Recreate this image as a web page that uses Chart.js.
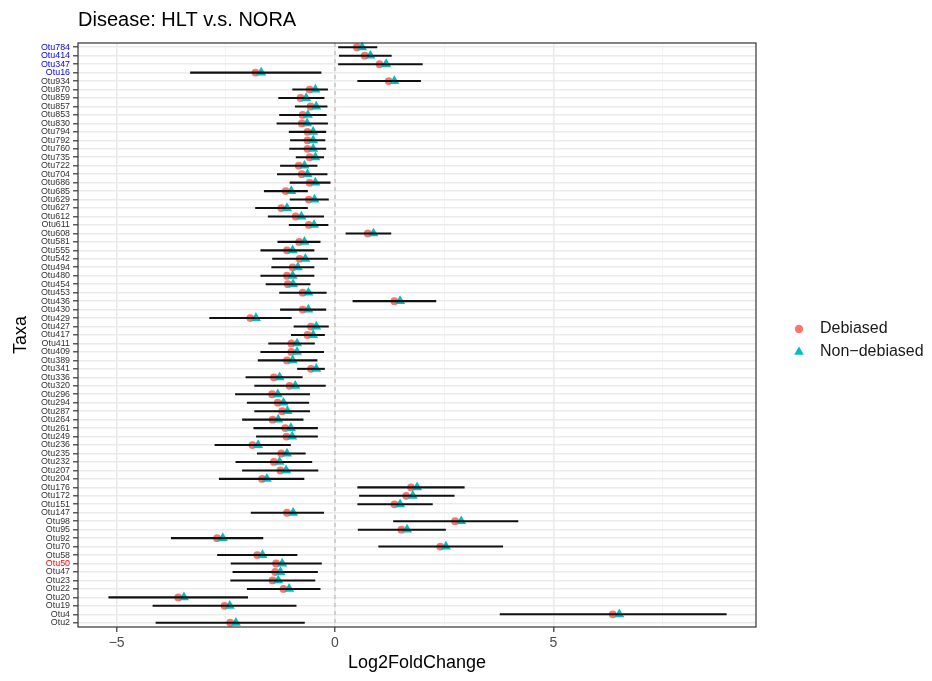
<!DOCTYPE html>
<html>
<head>
<meta charset="utf-8">
<script src="https://cdn.jsdelivr.net/npm/chart.js@4/dist/chart.umd.min.js"></script>
<style>
  html, body { margin: 0; padding: 0; background: #fff; }
  #wrap { width: 932px; height: 681px; }
</style>
</head>
<body>
<div id="wrap"><canvas id="dotplot"></canvas></div>
<script>
var taxa = ["Otu784","Otu414","Otu347","Otu16","Otu934","Otu870","Otu859","Otu857","Otu853","Otu830",
  "Otu794","Otu792","Otu760","Otu735","Otu722","Otu704","Otu686","Otu685","Otu629","Otu627",
  "Otu612","Otu611","Otu608","Otu581","Otu555","Otu542","Otu494","Otu480","Otu454","Otu453",
  "Otu436","Otu430","Otu429","Otu427","Otu417","Otu411","Otu409","Otu389","Otu341","Otu336",
  "Otu320","Otu296","Otu294","Otu287","Otu264","Otu261","Otu249","Otu236","Otu235","Otu232",
  "Otu207","Otu204","Otu176","Otu172","Otu151","Otu147","Otu98","Otu95","Otu92","Otu70",
  "Otu58","Otu50","Otu47","Otu23","Otu22","Otu20","Otu19","Otu4","Otu2"];

var blueTaxa = ["Otu784","Otu414","Otu347","Otu16"];
var redTaxa = ["Otu50"];

var debiased = [0.50,0.68,1.02,-1.82,1.23,-0.58,-0.79,-0.56,-0.74,-0.76,
  -0.63,-0.63,-0.63,-0.58,-0.83,-0.76,-0.58,-1.13,-0.60,-1.23,
  -0.90,-0.60,0.75,-0.82,-1.10,-0.81,-0.97,-1.10,-1.08,-0.74,
  1.36,-0.74,-1.94,-0.55,-0.63,-1.00,-1.00,-1.10,-0.55,-1.40,
  -1.04,-1.44,-1.31,-1.21,-1.43,-1.14,-1.11,-1.89,-1.23,-1.40,
  -1.25,-1.67,1.74,1.63,1.36,-1.10,2.75,1.52,-2.70,2.41,
  -1.78,-1.35,-1.37,-1.43,-1.18,-3.59,-2.53,6.36,-2.40];

var nonDebiased = [0.62,0.81,1.17,-1.69,1.36,-0.45,-0.66,-0.43,-0.62,-0.64,
  -0.50,-0.50,-0.50,-0.45,-0.70,-0.63,-0.45,-1.00,-0.47,-1.10,
  -0.77,-0.48,0.88,-0.70,-0.97,-0.68,-0.85,-0.97,-0.96,-0.61,
  1.49,-0.61,-1.81,-0.43,-0.50,-0.87,-0.87,-0.97,-0.43,-1.27,
  -0.91,-1.31,-1.18,-1.09,-1.30,-1.01,-0.98,-1.76,-1.10,-1.27,
  -1.12,-1.56,1.88,1.78,1.49,-0.96,2.89,1.65,-2.57,2.54,
  -1.66,-1.21,-1.25,-1.30,-1.05,-3.46,-2.41,6.51,-2.27];

var ciLow = [0.08,0.10,0.08,-3.31,0.52,-0.97,-1.29,-0.91,-1.27,-1.33,
  -1.05,-1.02,-1.04,-0.89,-1.25,-1.32,-1.03,-1.62,-1.03,-1.82,
  -1.53,-1.05,0.25,-1.31,-1.70,-1.43,-1.45,-1.70,-1.58,-1.27,
  0.41,-1.25,-2.87,-0.94,-1.00,-1.52,-1.70,-1.76,-0.86,-2.04,
  -1.84,-2.28,-2.01,-1.84,-2.12,-1.86,-1.80,-2.75,-1.78,-2.27,
  -2.12,-2.65,0.52,0.56,0.52,-1.92,1.34,0.53,-3.75,1.00,
  -2.69,-2.38,-2.34,-2.39,-2.01,-5.18,-4.17,3.78,-4.10];

var ciHigh = [0.96,1.29,2.00,-0.32,1.96,-0.17,-0.25,-0.18,-0.20,-0.17,
  -0.21,-0.23,-0.21,-0.26,-0.41,-0.18,-0.11,-0.63,-0.15,-0.63,
  -0.26,-0.16,1.28,-0.34,-0.48,-0.17,-0.48,-0.48,-0.57,-0.20,
  2.31,-0.21,-1.00,-0.15,-0.24,-0.47,-0.26,-0.41,-0.24,-0.75,
  -0.22,-0.58,-0.60,-0.58,-0.73,-0.40,-0.40,-1.02,-0.68,-0.53,
  -0.39,-0.71,2.96,2.73,2.23,-0.26,4.19,2.53,-1.65,3.84,
  -0.87,-0.31,-0.40,-0.46,-0.34,-2.00,-0.89,8.96,-0.70];

var xTicks = [-5, -2.5, 0, 2.5, 5, 7.5];
var legendLabels = ["Debiased", "Non\u2212debiased"];

var FONT = "'Liberation Sans', Arial, sans-serif";
var RED = "#F8766D", TEAL = "#00BFC4";

var panelPlugin = {
  id: "panel",
  beforeDatasetsDraw: function(chart) {
    var ctx = chart.ctx, a = chart.chartArea, x0 = chart.scales.x.getPixelForValue(0);
    ctx.save();
    ctx.strokeStyle = "#BEBEBE";
    ctx.lineWidth = 1.3;
    ctx.setLineDash([4, 4]);
    ctx.beginPath();
    ctx.moveTo(x0, a.top);
    ctx.lineTo(x0, a.bottom);
    ctx.stroke();
    ctx.restore();
  },
  afterDraw: function(chart) {
    var ctx = chart.ctx, a = chart.chartArea;
    ctx.save();
    ctx.strokeStyle = "#333333";
    ctx.lineWidth = 1.2;
    ctx.strokeRect(a.left, a.top, a.right - a.left, a.bottom - a.top);

    // legend, right of the panel
    var styles = [{ pointStyle: "circle", radius: 4.2, color: RED }, { pointStyle: "triangle", radius: 5.5, color: TEAL }];
    var lx = 799, ly = 329;
    ctx.font = "16px " + FONT;
    ctx.textBaseline = "middle";
    ctx.textAlign = "left";
    legendLabels.forEach(function(lab, i) {
      var y = ly + i * 23;
      ctx.fillStyle = styles[i].color;
      ctx.strokeStyle = styles[i].color;
      Chart.helpers.drawPoint(ctx, { pointStyle: styles[i].pointStyle, radius: styles[i].radius, rotation: 0, borderWidth: 0 }, lx, y);
      ctx.fillStyle = "#1A1A1A";
      ctx.fillText(lab, 820, y);
    });
    ctx.restore();
  }
};

var errBars = taxa.map(function(t, i) { return [ciLow[i], ciHigh[i]]; });

new Chart(document.getElementById("dotplot"), {
  type: "bar",
  data: {
    labels: taxa,
    datasets: [{
      label: "CI",
      data: errBars,
      backgroundColor: "#111111",
      borderWidth: 0,
      barThickness: 1.4
    }, {
      type: "line",
      label: legendLabels[1],
      data: nonDebiased,
      showLine: false,
      pointStyle: "triangle",
      pointRadius: 5.8,
      pointHoverRadius: 5.8,
      pointBackgroundColor: TEAL,
      pointBorderColor: TEAL,
      pointBorderWidth: 0,
      backgroundColor: TEAL,
      borderColor: TEAL
    }, {
      type: "line",
      label: legendLabels[0],
      data: debiased,
      showLine: false,
      pointStyle: "circle",
      pointRadius: 3.9,
      pointHoverRadius: 3.9,
      pointBackgroundColor: RED,
      pointBorderColor: RED,
      pointBorderWidth: 0,
      backgroundColor: RED,
      borderColor: RED
    }]
  },
  options: {
    indexAxis: "y",
    responsive: true,
    maintainAspectRatio: false,
    animation: false,
    layout: { padding: { top: 0, right: 176, bottom: 0, left: 0 } },
    plugins: {
      tooltip: { enabled: false },
      legend: { display: false },
      title: {
        display: true,
        text: "Disease: HLT v.s. NORA",
        align: "start",
        fullSize: false,
        color: "#000",
        font: { family: FONT, size: 20, weight: "normal" },
        padding: { top: 8, bottom: 11 }
      }
    },
    scales: {
      x: {
        type: "linear",
        min: -5.885,
        max: 9.64,
        afterBuildTicks: function(s) { s.ticks = xTicks.map(function(v) { return { value: v }; }); },
        afterFit: function(s) { s.height = 54; },
        grid: {
          color: function(c) { return c.tick && c.tick.value % 5 === 0 ? "#EBEBEB" : "#F3F3F3"; },
          lineWidth: function(c) { return c.tick && c.tick.value % 5 === 0 ? 1.6 : 1; },
          tickColor: function(c) { return c.tick && c.tick.value % 5 === 0 ? "#333333" : "rgba(0,0,0,0)"; },
          tickLength: 5,
          tickWidth: 1.2
        },
        border: { display: false },
        ticks: {
          autoSkip: false,
          maxRotation: 0,
          padding: 3,
          color: "#4D4D4D",
          font: { family: FONT, size: 14 },
          callback: function(v) { return v % 5 === 0 ? String(v).replace("-", "\u2212") : ""; }
        },
        title: {
          display: true,
          text: "Log2FoldChange",
          color: "#000",
          font: { family: FONT, size: 18 },
          padding: { top: 2, bottom: 7 }
        }
      },
      y: {
        type: "category",
        offset: true,
        afterFit: function(s) { s.width = 78; },
        grid: {
          offset: false,
          color: "#EBEBEB",
          lineWidth: 1.6,
          tickColor: "#333333",
          tickLength: 5,
          tickWidth: 1.2
        },
        border: { display: false },
        ticks: {
          autoSkip: false,
          padding: 3,
          font: { family: FONT, size: 8.9 },
          color: function(c) {
            var t = taxa[c.index];
            if (blueTaxa.indexOf(t) >= 0) return "#0000FF";
            if (redTaxa.indexOf(t) >= 0) return "#FF0000";
            return "#333333";
          }
        },
        title: {
          display: true,
          text: "Taxa",
          color: "#000",
          font: { family: FONT, size: 18 },
          padding: { top: 10, bottom: 0 }
        }
      }
    }
  },
  plugins: [panelPlugin]
});
</script>
</body>
</html>
